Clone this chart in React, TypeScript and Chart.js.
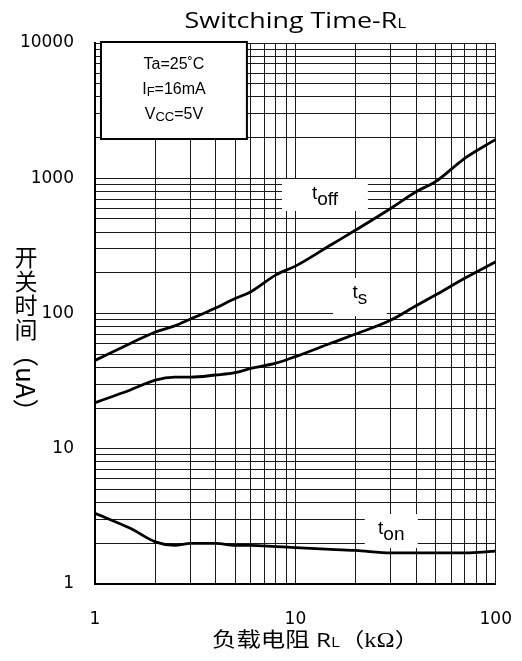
import React, { useEffect, useRef } from 'react';
import { Chart, registerables } from 'chart.js';

Chart.register(...registerables);

// ---- Data ----
const rlValues = [1, 1.5, 2, 2.5, 3, 4, 5, 6, 8, 10, 15, 20, 30, 40, 50, 70, 100];
const tOffValues = [45, 60, 73, 81, 91, 110, 129, 145, 193, 224, 321, 414, 600, 795, 943, 1405, 1940];
const tSValues = [21.9, 27.2, 32.2, 33.8, 33.8, 35.1, 36.5, 39.3, 42.9, 48, 60.2, 70.5, 89.5, 114, 137, 182, 241];
const tOnValues = [3.33, 2.58, 2.05, 1.93, 2.0, 2.0, 1.93, 1.93, 1.89, 1.86, 1.8, 1.77, 1.7, 1.7, 1.7, 1.7, 1.75];
const seriesNames = ['toff', 'ts', 'ton'];
const xTickLabels = [1, 10, 100];
const yTickLabels = [1, 10, 100, 1000, 10000];

const curveLabelMain = ['t', 't', 't'];
const curveLabelSub = ['off', 's', 'on'];
const curveLabelBoxes = [
  { x0: 8.57, x1: 23.0, yTop: 987, yBottom: 573 },
  { x0: 15.4, x1: 28.6, yTop: 183, yBottom: 95.8 },
  { x0: 22.2, x1: 40.8, yTop: 3.29, yBottom: 1.85 },
];

const conditionBox = { x0: 1.071, x1: 5.73, yTop: 10000, yBottom: 1950 };
const conditionLines = [
  [{ text: 'Ta=25˚C' }],
  [{ text: 'I' }, { text: 'F', small: true }, { text: '=16mA' }],
  [{ text: 'V' }, { text: 'CC', small: true }, { text: '=5V' }],
];

const titleMain = 'Switching Time-R';
const titleSub = 'L';
const xTitleCJK = '负载电阻';
const xTitleLatin = ' R';
const xTitleSub = 'L';
const xTitleUnit = 'kΩ';
const yTitleCJK = ['开', '关', '时', '间'];
const yTitleRotated = '（uA）';

type Run = { text: string; font: string; dy?: number };

function runsWidth(ctx: CanvasRenderingContext2D, runs: Run[]) {
  let w = 0;
  for (const r of runs) {
    ctx.font = r.font;
    w += ctx.measureText(r.text).width;
  }
  return w;
}

function drawRuns(
  ctx: CanvasRenderingContext2D,
  runs: Run[],
  x: number,
  y: number,
  align: 'left' | 'center',
  stretch = 1
) {
  const total = runsWidth(ctx, runs) * stretch;
  let cx = align === 'center' ? x - total / 2 : x;
  ctx.save();
  ctx.textAlign = 'left';
  ctx.textBaseline = 'alphabetic';
  ctx.fillStyle = '#000';
  for (const r of runs) {
    ctx.font = r.font;
    const w = ctx.measureText(r.text).width;
    ctx.save();
    ctx.translate(cx, y + (r.dy || 0));
    ctx.scale(stretch, 1);
    ctx.fillText(r.text, 0, 0);
    ctx.restore();
    cx += w * stretch;
  }
  ctx.restore();
}

const isLogStep = (v: number) => {
  const p = Math.pow(10, Math.floor(Math.log10(v) + 1e-9));
  const s = v / p;
  return Math.abs(s - Math.round(s)) < 1e-6;
};

const decorPlugin = {
  id: 'decor',
  beforeDatasetsDraw(chart: any) {
    const { ctx, scales } = chart;
    const xs = scales.x;
    const ys = scales.y;
    ctx.save();
    const bx0 = xs.getPixelForValue(conditionBox.x0);
    const bx1 = xs.getPixelForValue(conditionBox.x1);
    const by0 = ys.getPixelForValue(conditionBox.yTop) - 1;
    const by1 = ys.getPixelForValue(conditionBox.yBottom);
    ctx.fillStyle = '#fff';
    ctx.fillRect(bx0, by0, bx1 - bx0, by1 - by0);
    ctx.strokeStyle = '#000';
    ctx.lineWidth = 2;
    ctx.strokeRect(bx0, by0, bx1 - bx0, by1 - by0);
    const big = '16px "Liberation Sans", Arial, sans-serif';
    const small = '13px "Liberation Sans", Arial, sans-serif';
    conditionLines.forEach((line, i) => {
      const runs: Run[] = line.map((p: any) => ({
        text: p.text,
        font: p.small ? small : big,
        dy: p.small ? 2 : 0,
      }));
      drawRuns(ctx, runs, (bx0 + bx1) / 2, by0 + 26.5 + i * 25, 'center');
    });

    const mainFont = '19px "Liberation Sans", Arial, sans-serif';
    curveLabelBoxes.forEach((b, i) => {
      const x0 = xs.getPixelForValue(b.x0);
      const x1 = xs.getPixelForValue(b.x1);
      const y0 = ys.getPixelForValue(b.yTop);
      const y1 = ys.getPixelForValue(b.yBottom);
      ctx.fillStyle = '#fff';
      ctx.fillRect(x0, y0, x1 - x0, y1 - y0);
      drawRuns(
        ctx,
        [
          { text: curveLabelMain[i], font: mainFont },
          { text: curveLabelSub[i], font: mainFont, dy: 6.5 },
        ],
        (x0 + x1) / 2,
        y0 + 19.5,
        'center'
      );
    });
    ctx.restore();
  },
  afterDraw(chart: any) {
    const { ctx, chartArea } = chart;
    ctx.save();
    drawRuns(
      ctx,
      [
        { text: titleMain, font: '22px "Open Sans", "Noto Sans", sans-serif' },
        { text: titleSub, font: '14px "Open Sans", "Noto Sans", sans-serif' },
      ],
      (chartArea.left + chartArea.right) / 2,
      20,
      'center',
      1.22
    );
    const cjk = '20px "Noto Sans CJK SC", sans-serif';
    drawRuns(
      ctx,
      [
        { text: xTitleCJK, font: cjk },
        { text: xTitleLatin, font: '20px "Open Sans", "Noto Sans", sans-serif' },
        { text: xTitleSub, font: '14px "Open Sans", "Noto Sans", sans-serif' },
        { text: '（', font: cjk },
        { text: xTitleUnit, font: '20px "Liberation Serif", serif' },
        { text: '）', font: cjk },
      ],
      chartArea.left + 117,
      639,
      'left',
      1.22
    );
    ctx.fillStyle = '#000';
    ctx.font = '23px "Noto Sans CJK SC", sans-serif';
    ctx.textAlign = 'center';
    ctx.textBaseline = 'middle';
    const colX = 18;
    const firstY = 249;
    yTitleCJK.forEach((ch, i) => {
      ctx.fillText(ch, colX, firstY + i * 24);
    });
    ctx.save();
    ctx.translate(colX, firstY + yTitleCJK.length * 24 - 12);
    ctx.rotate(Math.PI / 2);
    ctx.font = '26px "Noto Sans CJK SC", sans-serif';
    ctx.textAlign = 'left';
    ctx.textBaseline = 'middle';
    ctx.fillText(yTitleRotated, 0, 0);
    ctx.restore();
    ctx.restore();
  },
};

export default function App() {
  const ref = useRef<HTMLCanvasElement>(null);
  useEffect(() => {
    if (!ref.current) return;
    const seriesValues = [tOffValues, tSValues, tOnValues];
    const chart = new Chart(ref.current, {
      type: 'line',
      data: {
        datasets: seriesValues.map((vals, i) => ({
          label: seriesNames[i],
          data: rlValues.map((x, j) => ({ x, y: vals[j] })),
          borderColor: '#000',
          backgroundColor: '#000',
          borderWidth: 2.8,
          pointRadius: 0,
          fill: false,
          cubicInterpolationMode: 'monotone' as const,
        })),
      },
      options: {
        animation: false,
        responsive: true,
        maintainAspectRatio: false,
        layout: { padding: { top: 35, right: 18, bottom: 0, left: 0 } },
        plugins: {
          legend: { display: false },
          tooltip: { enabled: false },
          title: { display: false },
        },
        scales: {
          x: {
            type: 'logarithmic',
            min: 1,
            max: 100,
            afterBuildTicks: (scale: any) => {
              scale.ticks = scale.ticks.filter((t: any) => isLogStep(t.value));
            },
            afterFit: (scale: any) => {
              scale.height = 69;
            },
            grid: { color: '#1a1a1a', lineWidth: 1, drawTicks: false },
            border: { display: true, color: '#000', width: 2 },
            ticks: {
              autoSkip: false,
              maxRotation: 0,
              padding: 2,
              color: '#000',
              font: { family: '"DejaVu Sans", sans-serif', size: 17, lineHeight: '67px' },
              callback: (v: any) => (xTickLabels.includes(Number(v)) ? String(v) : ''),
            },
          },
          y: {
            type: 'logarithmic',
            min: 1,
            max: 10000,
            afterBuildTicks: (scale: any) => {
              scale.ticks = scale.ticks.filter((t: any) => isLogStep(t.value));
            },
            afterFit: (scale: any) => {
              scale.width = 87;
            },
            grid: { color: '#1a1a1a', lineWidth: 1, drawTicks: false },
            border: { display: true, color: '#000', width: 2 },
            ticks: {
              autoSkip: false,
              padding: 21,
              color: '#000',
              font: { family: '"DejaVu Sans", sans-serif', size: 17 },
              callback: (v: any) => (yTickLabels.includes(Number(v)) ? String(v) : ''),
            },
          },
        },
      },
      plugins: [decorPlugin],
    } as any);
    return () => chart.destroy();
  }, []);
  return (
    <div style={{ position: 'relative', width: 506, height: 645 }}>
      <canvas ref={ref} />
    </div>
  );
}
